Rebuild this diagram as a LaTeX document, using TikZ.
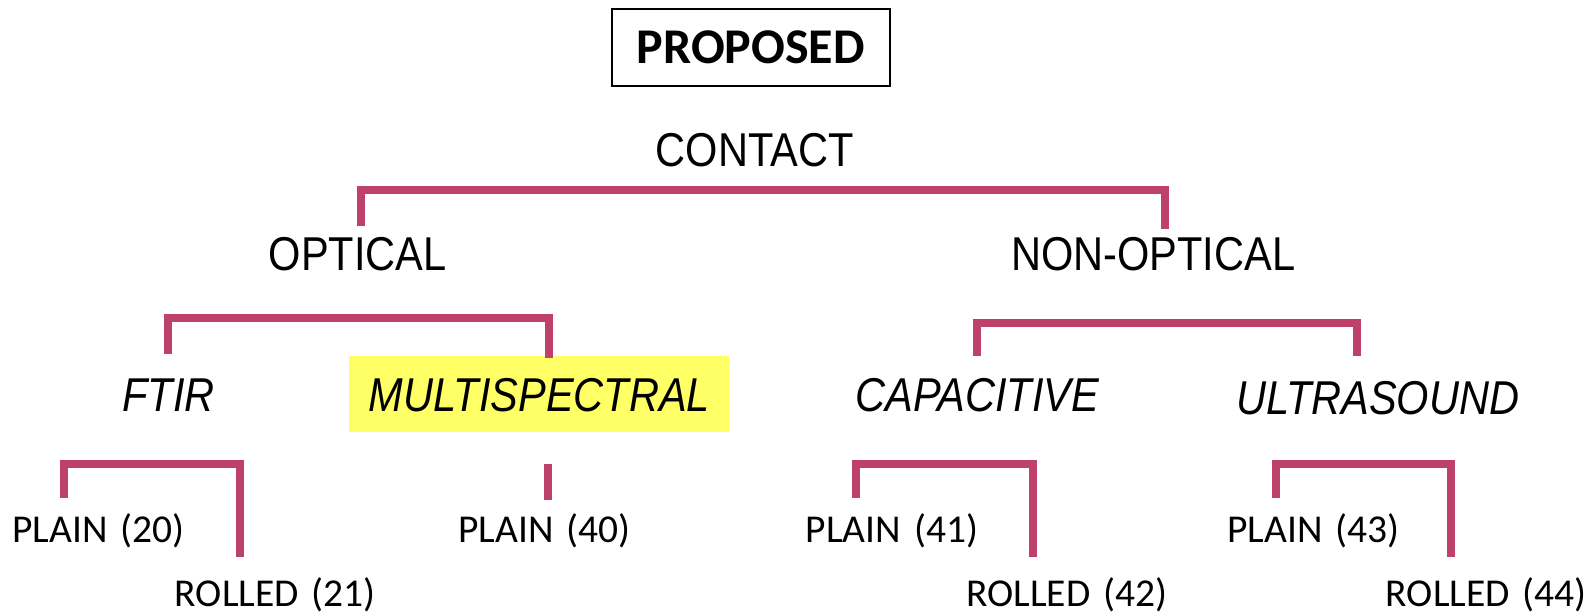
\documentclass[tikz,border=0pt]{standalone}
\usepackage{fontspec}
\setmainfont{Carlito}
\newfontfamily\lib[FakeStretch=0.875]{Liberation Sans}
\definecolor{brc}{RGB}{190,64,108}
\definecolor{hl}{RGB}{255,255,102}
\begin{document}
\begin{tikzpicture}[x=1.016pt,y=-1.016pt,
 br/.style={draw=brc, line width=8pt, line join=miter},
 lvl/.style={anchor=base, inner sep=0pt, font=\lib\fontsize{47.5}{50}\selectfont},
 ital/.style={anchor=base, inner sep=0pt, font=\lib\itshape\fontsize{47.5}{50}\selectfont},
 leaf/.style={anchor=base, inner sep=0pt, font=\fontsize{39.5}{42}\selectfont}]
\useasboundingbox (0,0) rectangle (1568,606);
% title
\node[draw, line width=1.6pt, minimum width=278pt, minimum height=77pt, inner sep=0pt,
      font=\bfseries\fontsize{50}{52}\selectfont] (proposed) at (739,47) {PROPOSED};
% level 1
\node[lvl] (contact) at (743,164) {CONTACT};
\node[lvl] (optical) at (352,266) {OPTICAL};
\node[lvl] (nonoptical) at (1135,266) {NON-OPTICAL};
% level 2
\fill[hl] (344,350) rectangle (718,425);
\node[ital] (ftir) at (166,405) {FTIR};
\node[ital] (multi) at (531,405) {MULTISPECTRAL};
\node[ital] (capac) at (962,405) {CAPACITIVE};
\node[ital] (ultra) at (1356,408) {ULTRASOUND};
% leaves
\node[leaf] (p20) at (97,534) {PLAIN\hspace{0.1em} (20)};
\node[leaf] (r21) at (271,597) {ROLLED\hspace{0.1em} (21)};
\node[leaf] (p40) at (536,534) {PLAIN\hspace{0.1em} (40)};
\node[leaf] (p41) at (878,534) {PLAIN\hspace{0.1em} (41)};
\node[leaf] (r42) at (1050,597) {ROLLED\hspace{0.1em} (42)};
\node[leaf] (p43) at (1293,534) {PLAIN\hspace{0.1em} (43)};
\node[leaf] (r44) at (1463,597) {ROLLED\hspace{0.1em} (44)};
% brackets
\draw[br] (355,222) -- (355,187) -- (1147,187) -- (1147,225);
\draw[br] (165,348) -- (165,313) -- (540,313) -- (540,352);
\draw[br] (962,350) -- (962,318) -- (1336,318) -- (1336,350);
\draw[br] (63,490) -- (63,457) -- (236,457) -- (236,548);
\draw[br] (539,457) -- (539,492);
\draw[br] (843,490) -- (843,457) -- (1017,457) -- (1017,548);
\draw[br] (1256,490) -- (1256,457) -- (1428,457) -- (1428,548);
\end{tikzpicture}
\end{document}
